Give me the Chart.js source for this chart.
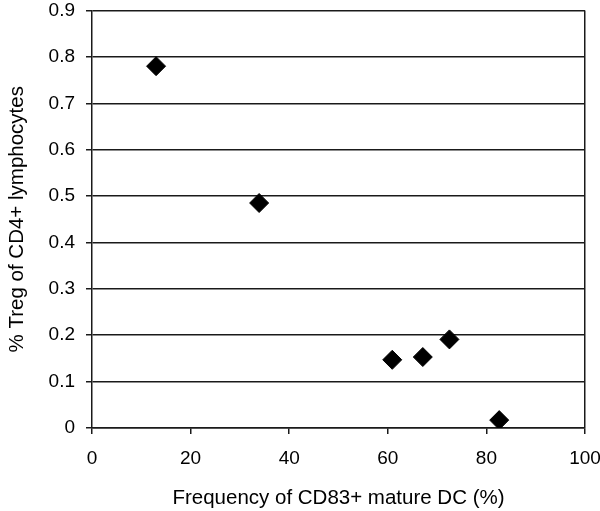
<!DOCTYPE html>
<html>
<head>
<meta charset="utf-8">
<script src="https://cdn.jsdelivr.net/npm/chart.js@4/dist/chart.umd.min.js"></script>
<style>
  html, body { margin: 0; padding: 0; background: #fff; }
  #wrap { width: 600px; height: 511px; position: relative; }
</style>
</head>
<body>
<div id="wrap"><canvas id="c"></canvas></div>
<script>
// Data
const matureDC = [13.0, 33.9, 60.9, 67.1, 72.5, 82.6];      // Frequency of CD83+ mature DC (%)
const tregPct  = [0.78, 0.485, 0.147, 0.153, 0.191, 0.017]; // % Treg of CD4+ lymphocytes
const xTitle = 'Frequency of CD83+ mature DC (%)';
const yTitle = '% Treg of CD4+ lymphocytes';
const xMin = 0, xMax = 100, xStep = 20;
const yMin = 0, yMax = 0.9, yStep = 0.1;

const points = matureDC.map((x, i) => ({ x: x, y: tregPct[i] }));
const FONT = 'Liberation Sans, Arial, Helvetica, sans-serif';
const LINE = '#1a1a1a';

new Chart(document.getElementById('c'), {
  type: 'scatter',
  data: {
    datasets: [{
      data: points,
      pointStyle: 'rectRot',
      pointRadius: 9.5,
      pointHoverRadius: 9.5,
      backgroundColor: '#000',
      borderColor: '#000',
      borderWidth: 1
    }]
  },
  options: {
    responsive: true,
    maintainAspectRatio: false,
    animation: false,
    layout: { padding: 0 },
    plugins: { legend: { display: false }, tooltip: { enabled: false } },
    scales: {
      x: {
        type: 'linear',
        min: xMin, max: xMax,
        ticks: { stepSize: xStep, color: '#000', padding: 13, font: { family: FONT, size: 19 }, maxRotation: 0 },
        grid: {
          drawOnChartArea: true,
          color: (ctx) => (ctx.tick && ctx.tick.value === xMax) ? LINE : 'rgba(0,0,0,0)',
          lineWidth: 1.5,
          tickColor: LINE,
          tickLength: 6
        },
        border: { display: true, color: LINE, width: 1.5 },
        title: { display: true, text: xTitle, color: '#000', font: { family: FONT, size: 20.5 }, padding: { top: 0, bottom: 0 } },
        afterFit: (s) => { s.height = 83; s.paddingRight = 15; s.paddingLeft = 0; }
      },
      y: {
        type: 'linear',
        min: yMin, max: yMax,
        ticks: { stepSize: yStep, color: '#000', padding: 11, font: { family: FONT, size: 19 },
                 callback: (v) => Number(v.toFixed(1)).toString() },
        grid: { color: LINE, lineWidth: 1.5, tickColor: LINE, tickLength: 6 },
        border: { display: true, color: LINE, width: 1.5 },
        title: { display: true, text: yTitle, color: '#000', font: { family: FONT, size: 20.5 }, padding: { top: 5, bottom: 0 } },
        afterFit: (s) => { s.width = 92; s.paddingTop = 7; s.paddingBottom = 0; }
      }
    }
  }
});
</script>
</body>
</html>
